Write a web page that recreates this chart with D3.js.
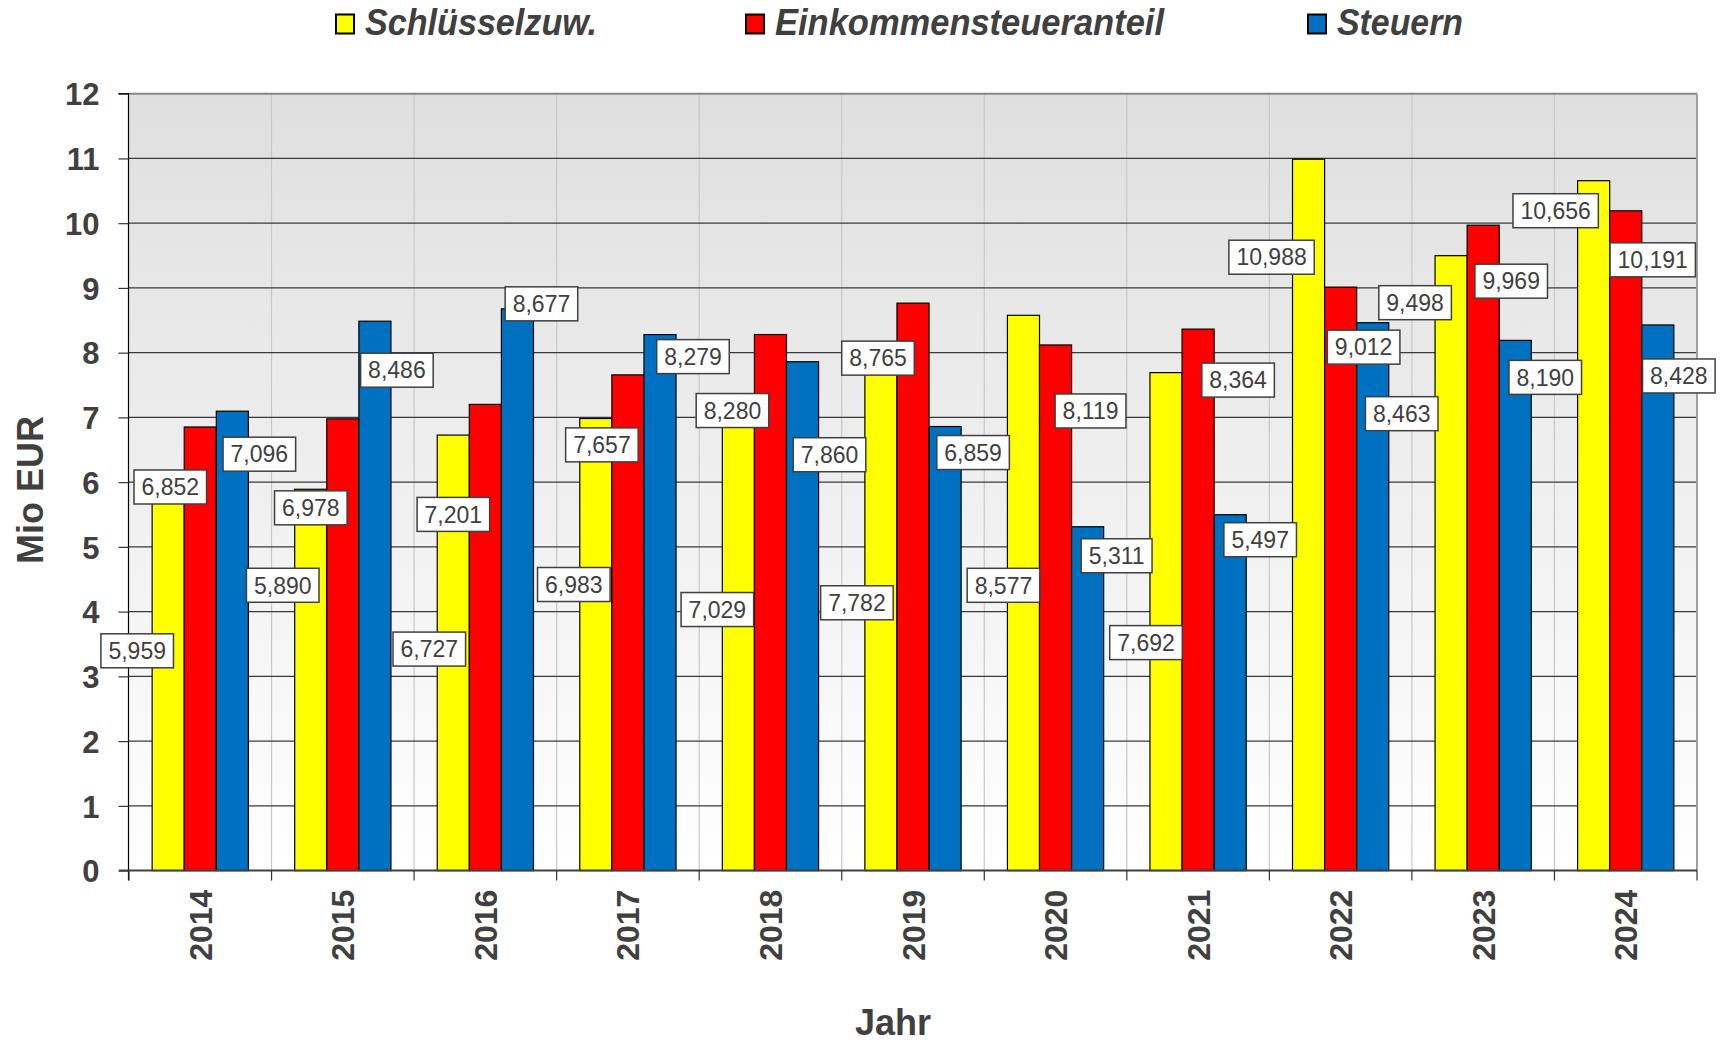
<!DOCTYPE html>
<html>
<head>
<meta charset="utf-8">
<script src="https://cdn.jsdelivr.net/npm/d3@7"></script>
<style>
  body { margin: 0; background: #fff; }
  text { font-family: "Liberation Sans", Arial, sans-serif; fill: #404040; }
</style>
</head>
<body>
<div id="chart"></div>
<script>
var years = ["2014","2015","2016","2017","2018","2019","2020","2021","2022","2023","2024"];
var seriesNames = ["Schlüsselzuw.", "Einkommensteueranteil", "Steuern"];
var schluessel = [5.959, 5.890, 6.727, 6.983, 7.029, 7.782, 8.577, 7.692, 10.988, 9.498, 10.656];
var einkommen  = [6.852, 6.978, 7.201, 7.657, 8.280, 8.765, 8.119, 8.364, 9.012, 9.969, 10.191];
var steuern    = [7.096, 8.486, 8.677, 8.279, 7.860, 6.859, 5.311, 5.497, 8.463, 8.190, 8.428];
var yTicks = [0,1,2,3,4,5,6,7,8,9,10,11,12];

// where each value box sits, relative to the top centre of its bar (px)
var labelShift = [
  [[-31,166],[-28,96],[-24,214],[-22,166],[-21,194],[-24,236],[-20,270],[-20,270],[-37,98],[-36,47],[-38,30]],
  [[-30,60],[-32,89],[-32,110],[-26,70],[-38,76],[-35,55],[35,66],[40,51],[23,60],[28,56],[27,49]],
  [[27,43],[22,49],[24,-5],[33,22],[27,93],[28,26],[29,29],[30,25],[29,91],[30,37],[21,51]]
];

var colors = ["#ffff00", "#ff0000", "#0070c0"];
var legendX = [336, 746, 1308];
var legendW = [232, 389, 126];

var W = 1728, H = 1042;
var plot = { left: 129, right: 1697, top: 93.7, bottom: 870.6 };

var values = [schluessel, einkommen, steuern];
var de = d3.formatLocale({decimal: ",", thousands: ".", grouping: [3], currency: ["", " €"]});
var fmt = de.format(".3f");

var svg = d3.select("#chart").append("svg")
  .attr("width", W).attr("height", H);

var grad = svg.append("defs").append("linearGradient")
  .attr("id", "bg").attr("x1", 0).attr("y1", 0).attr("x2", 0).attr("y2", 1);
grad.append("stop").attr("offset", "0%").attr("stop-color", "#dfdfdf");
grad.append("stop").attr("offset", "100%").attr("stop-color", "#ffffff");

var x = d3.scaleBand().domain(years).range([plot.left, plot.right]).padding(0);
var xs = d3.scaleBand().domain([0,1,2])
  .range([23.15, x.bandwidth() - 23.15]).padding(0);
var y = d3.scaleLinear().domain([0, 12]).range([plot.bottom, plot.top]);

svg.append("rect")
  .attr("x", plot.left).attr("y", plot.top)
  .attr("width", plot.right - plot.left).attr("height", plot.bottom - plot.top)
  .attr("fill", "url(#bg)");

// vertical grid at category borders
svg.append("g").selectAll("line")
  .data(years.slice(1))
  .enter().append("line")
  .attr("x1", function(d){ return x(d); }).attr("x2", function(d){ return x(d); })
  .attr("y1", plot.top).attr("y2", plot.bottom)
  .attr("stroke", "#c8c8c8").attr("stroke-width", 1.2);

// horizontal grid
svg.append("g").selectAll("line")
  .data(yTicks.slice(1, -1))
  .enter().append("line")
  .attr("x1", plot.left).attr("x2", plot.right)
  .attr("y1", function(d){ return y(d); }).attr("y2", function(d){ return y(d); })
  .attr("stroke", "#3a3a3a").attr("stroke-width", 1.2);

// plot border top / right
svg.append("line").attr("x1", plot.left).attr("x2", plot.right)
  .attr("y1", plot.top).attr("y2", plot.top)
  .attr("stroke", "#858585").attr("stroke-width", 2);
svg.append("line").attr("x1", plot.right).attr("x2", plot.right)
  .attr("y1", plot.top).attr("y2", plot.bottom)
  .attr("stroke", "#a0a0a0").attr("stroke-width", 2);

// bars
values.forEach(function(vals, s) {
  svg.append("g").selectAll("rect")
    .data(vals)
    .enter().append("rect")
    .attr("x", function(d, i){ return x(years[i]) + xs(s); })
    .attr("y", function(d){ return y(d); })
    .attr("width", xs.bandwidth())
    .attr("height", function(d){ return y(0) - y(d); })
    .attr("fill", colors[s])
    .attr("stroke", "#000").attr("stroke-width", 1.2);
});

// y axis
var yAxis = d3.axisLeft(y).tickValues(yTicks).tickSize(10).tickPadding(19).tickFormat(d3.format("d"));
var ya = svg.append("g")
  .attr("transform", "translate(" + (plot.left - 0.5) + ",0)")
  .call(yAxis);
ya.select(".domain").attr("stroke", "#000").attr("stroke-width", 1.2)
  .attr("d", "M-10," + plot.top + "H0V" + (plot.bottom + 10));
ya.selectAll(".tick line").attr("stroke", "#333").attr("stroke-width", 1.2);
ya.selectAll(".tick text")
  .style("font-family", "'Liberation Sans', Arial, sans-serif")
  .style("font-size", "31px").style("font-weight", "bold")
  .attr("fill", "#404040").attr("dy", "0.36em");

// x axis line and boundary ticks
svg.append("line").attr("x1", plot.left - 10).attr("x2", plot.right)
  .attr("y1", plot.bottom).attr("y2", plot.bottom)
  .attr("stroke", "#404040").attr("stroke-width", 2);
svg.append("g").selectAll("line")
  .data(years.concat(["end"]))
  .enter().append("line")
  .attr("x1", function(d, i){ return plot.left + i * x.bandwidth(); })
  .attr("x2", function(d, i){ return plot.left + i * x.bandwidth(); })
  .attr("y1", plot.bottom).attr("y2", plot.bottom + 10)
  .attr("stroke", "#333").attr("stroke-width", 1.2);

svg.append("g").selectAll("text")
  .data(years)
  .enter().append("text")
  .attr("transform", function(d){ return "translate(" + (x(d) + x.bandwidth()/2) + "," + (plot.bottom + 19) + ") rotate(-90)"; })
  .attr("text-anchor", "end").attr("dy", "0.36em")
  .style("font-size", "32px").style("font-weight", "bold")
  .text(function(d){ return d; });

// axis titles
svg.append("text")
  .attr("transform", "translate(43,490) rotate(-90)")
  .attr("text-anchor", "middle")
  .style("font-size", "36px").style("font-weight", "bold")
  .text("Mio EUR");
svg.append("text")
  .attr("x", 893).attr("y", 1035)
  .attr("text-anchor", "middle")
  .style("font-size", "36px").style("font-weight", "bold")
  .text("Jahr");

// value boxes
values.forEach(function(vals, s) {
  var g = svg.append("g");
  vals.forEach(function(v, i) {
    var cx = x(years[i]) + xs(s) + xs.bandwidth()/2 + labelShift[s][i][0];
    var cy = y(v) + labelShift[s][i][1];
    var box = g.append("g").attr("transform", "translate(" + cx + "," + cy + ")");
    var r = box.append("rect");
    var t = box.append("text")
      .attr("text-anchor", "middle").attr("dy", "0.36em")
      .style("font-size", "23px")
      .text(fmt(v));
    var w = t.node().getComputedTextLength() + 15;
    r.attr("x", -w/2).attr("y", -17).attr("width", w).attr("height", 34)
      .attr("fill", "#fff").attr("stroke", "#404040").attr("stroke-width", 1.5);
  });
});

// legend
var leg = svg.append("g");
seriesNames.forEach(function(name, s) {
  leg.append("rect")
    .attr("x", legendX[s]).attr("y", 14.5).attr("width", 18).attr("height", 19)
    .attr("fill", colors[s]).attr("stroke", "#000").attr("stroke-width", 2);
  leg.append("text")
    .attr("x", legendX[s] + 29).attr("y", 34.5)
    .attr("textLength", legendW[s]).attr("lengthAdjust", "spacingAndGlyphs")
    .style("font-size", "36px").style("font-weight", "bold").style("font-style", "italic")
    .text(name);
});
</script>
</body>
</html>
